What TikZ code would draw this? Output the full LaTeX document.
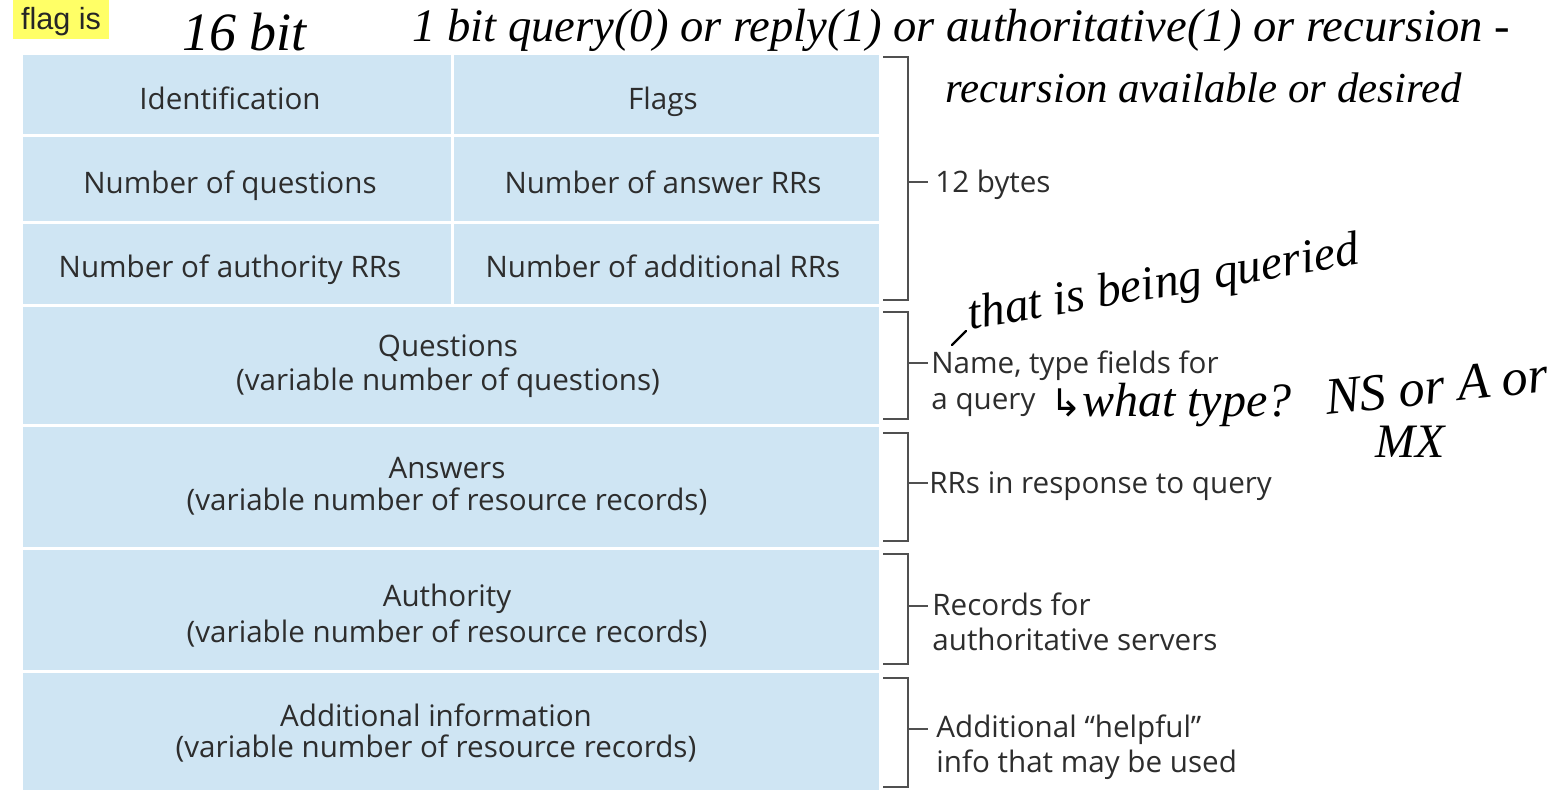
\documentclass[tikz,border=0pt]{standalone}
\usepackage{fontspec}
\setmainfont{Open Sans}
\newfontfamily\hand{Liberation Serif}
\newfontfamily\arialf{Liberation Sans}
\newfontfamily\djv{DejaVu Sans}
\definecolor{cellblue}{RGB}{207,229,243}
\definecolor{txtgray}{RGB}{45,45,45}
\definecolor{brkgray}{RGB}{80,80,80}
\definecolor{hlyellow}{RGB}{255,255,102}
\begin{document}
\begin{tikzpicture}[x=0.5pt,y=-0.5pt,
  cell/.style={fill=cellblue, inner sep=0pt},
  ctext/.style={anchor=base, inner sep=0pt, text=txtgray,
    font=\fontsize{14.8}{16}\selectfont},
  lab/.style={anchor=base west, inner sep=0pt, text=txtgray,
    font=\fontsize{14.8}{16}\selectfont},
  brk/.style={draw=brkgray, line width=0.75pt},
  handw/.style={inner sep=0pt, text=black, font=\hand\itshape\fontsize{23}{25}\selectfont}]
\useasboundingbox (0,0) rectangle (1560,808);
% highlighted note
\node[fill=hlyellow, inner sep=0pt, minimum width=48pt, minimum height=19.5pt] (flagbox) at (61,19.5) {};
\node[anchor=base, inner sep=0pt, text=black!85, font=\arialf\fontsize{15.3}{17}\selectfont] (flag) at (61,30) {flag is};
% table cells
\node[cell, minimum width=214pt, minimum height=39.5pt] (ident) at (237,94.5) {};
\node[cell, minimum width=212.5pt, minimum height=39.5pt] (flags) at (666.5,94.5) {};
\node[cell, minimum width=214pt, minimum height=42pt] (nq) at (237,179) {};
\node[cell, minimum width=212.5pt, minimum height=42pt] (nans) at (666.5,179) {};
\node[cell, minimum width=214pt, minimum height=40pt] (nauth) at (237,264) {};
\node[cell, minimum width=212.5pt, minimum height=40pt] (nadd) at (666.5,264) {};
\node[cell, minimum width=428pt, minimum height=58.5pt] (quest) at (451,365.5) {};
\node[cell, minimum width=428pt, minimum height=60pt] (answ) at (451,487) {};
\node[cell, minimum width=428pt, minimum height=60pt] (auth) at (451,610) {};
\node[cell, minimum width=428pt, minimum height=58.5pt] (addi) at (451,731.5) {};
% cell texts
\node[ctext] (identt) at (230,110) {Identification};
\node[ctext] (flagst) at (663,110) {Flags};
\node[ctext] (nqt) at (230,194) {Number of questions};
\node[ctext] (nanst) at (663,194) {Number of answer RRs};
\node[ctext] (nautht) at (230,278) {Number of authority RRs};
\node[ctext] (naddt) at (663,278) {Number of additional RRs};
\node[ctext] (questa) at (448,357) {Questions};
\node[ctext] (questb) at (448,390) {(variable number of questions)};
\node[ctext] (answa) at (447,478) {Answers};
\node[ctext] (answb) at (447,510) {(variable number of resource records)};
\node[ctext] (autha) at (447,606) {Authority};
\node[ctext] (authb) at (447,642) {(variable number of resource records)};
\node[ctext] (addia) at (436,726) {Additional information};
\node[ctext] (addib) at (436,757) {(variable number of resource records)};
% brackets
\draw[brk] (883,57) -- (908,57) -- (908,300) -- (883,300);
\draw[brk] (883,312) -- (908,312) -- (908,419) -- (883,419);
\draw[brk] (883,433) -- (908,433) -- (908,541) -- (883,541);
\draw[brk] (883,554) -- (908,554) -- (908,664) -- (883,664);
\draw[brk] (883,678) -- (908,678) -- (908,787) -- (883,787);
\coordinate (t1) at (908,182);
\coordinate (t2) at (908,363);
\coordinate (t3) at (908,483);
\coordinate (t4) at (908,606);
\coordinate (t5) at (908,729);
\node[lab] (l1) at (935,192) {12 bytes};
\node[lab] (l2a) at (931,373) {Name, type fields for};
\node[lab] (l2b) at (931,409) {a query};
\node[lab] (l3) at (929,493) {RRs in response to query};
\node[lab] (l4a) at (932,615) {Records for};
\node[lab] (l4b) at (932,650) {authoritative servers};
\node[lab] (l5a) at (936,737) {Additional “helpful”};
\node[lab] (l5b) at (936,772) {info that may be used};
\draw[brk] (t1) -- ++(20,0);
\draw[brk] (t2) -- ++(20,0);
\draw[brk] (t3) -- ++(20,0);
\draw[brk] (t4) -- ++(20,0);
\draw[brk] (t5) -- ++(20,0);
% handwritten notes
\node[handw, anchor=west, font=\hand\itshape\fontsize{27}{29}\selectfont] (h1) at (182,32) {16 bit};
\node[handw, anchor=west, font=\hand\itshape\fontsize{23.3}{25}\selectfont] (h2) at (412,30) {1 bit query(0) or reply(1) or authoritative(1) or recursion -};
\node[handw, anchor=west, font=\hand\itshape\fontsize{21.4}{23}\selectfont] (h3) at (945,88) {recursion available or desired};
\coordinate (hd1) at (952,345);
\coordinate (hd2) at (966,331);
\draw[line width=1.2pt, line cap=round] (hd1) -- (hd2);
\node[handw, anchor=west, rotate=9.5, font=\hand\itshape\fontsize{24}{26}\selectfont] (h4) at (968,318) {that is being queried};
\node[handw, anchor=west, font=\hand\itshape\fontsize{24}{26}\selectfont] (h5) at (1050,405) {{\djv\fontsize{19}{21}\selectfont ↳}what type?};
\node[handw, anchor=west, rotate=6, font=\hand\itshape\fontsize{26}{28}\selectfont] (h6) at (1325,398) {NS or A or};
\node[handw, anchor=west, font=\hand\itshape\fontsize{24}{26}\selectfont] (h7) at (1375,442) {MX};
\end{tikzpicture}
\end{document}
